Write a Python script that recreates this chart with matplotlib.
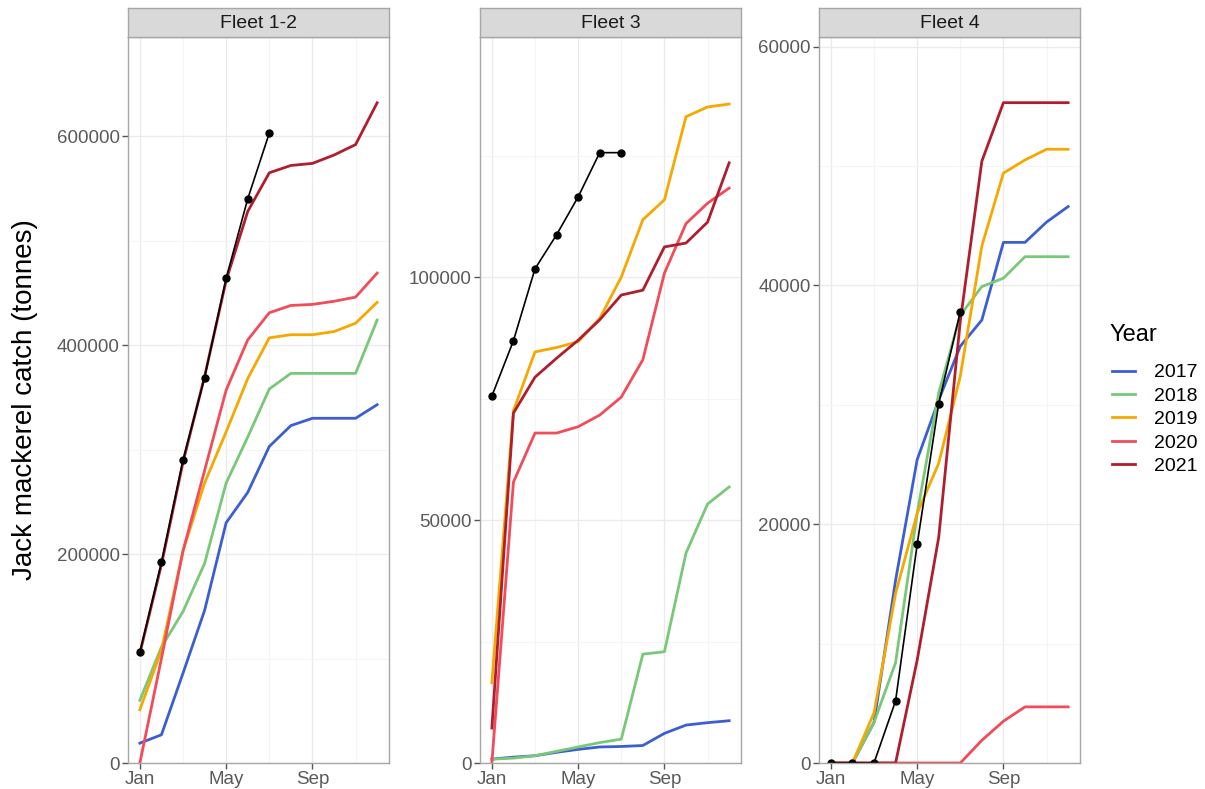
import matplotlib
matplotlib.use('Agg')
from matplotlib import pyplot as plt
from matplotlib.lines import Line2D

plt.rcParams['font.family'] = ['Liberation Sans', 'DejaVu Sans']

months = list(range(1, 13))
cur_months = list(range(1, 8))
years = ['2017', '2018', '2019', '2020', '2021']
year_colors = ['#3B5FD0', '#78C878', '#F5A800', '#F04C5A', '#B01E2E']

month_ticks = [1, 5, 9]
month_labels = ['Jan', 'May', 'Sep']
fleets = ['Fleet 1-2', 'Fleet 3', 'Fleet 4']

# Fleet 1-2
f12_2017 = [19000, 27000, 86000, 146000, 230000, 259000, 303000, 323000, 330000, 330000, 330000, 343000]
f12_2018 = [60000, 111000, 145000, 191000, 268000, 312000, 358000, 373000, 373000, 373000, 373000, 424000]
f12_2019 = [51000, 108000, 203000, 268000, 317000, 368000, 407000, 410000, 410000, 413000, 421000, 441000]
f12_2020 = [0, 100000, 203000, 280000, 357000, 405000, 431000, 438000, 439000, 442000, 446000, 469000]
f12_2021 = [105000, 190000, 288000, 370000, 462000, 528000, 565000, 572000, 574000, 582000, 592000, 632000]
f12_cur = [106000, 192000, 290000, 369000, 464000, 540000, 603000]

# Fleet 3
f3_2017 = [800, 1200, 1500, 2200, 2800, 3300, 3400, 3600, 6100, 7800, 8300, 8700]
f3_2018 = [800, 1000, 1500, 2400, 3300, 4200, 4900, 22400, 22900, 43200, 53300, 56800]
f3_2019 = [16500, 72500, 84600, 85500, 86700, 91500, 100000, 111800, 115900, 133000, 135000, 135600]
f3_2020 = [0, 57800, 67900, 67900, 69200, 71600, 75300, 83000, 100800, 111000, 115200, 118300]
f3_2021 = [7200, 72000, 79400, 83300, 87000, 91200, 96300, 97300, 106200, 107000, 111300, 123500]
f3_cur = [75500, 86900, 101700, 108700, 116500, 125600, 125600]

# Fleet 4
f4_2017 = [0, 0, 3400, 15300, 25400, 30400, 34900, 37100, 43600, 43600, 45300, 46600]
f4_2018 = [0, 0, 3400, 8400, 20900, 31000, 37500, 39900, 40600, 42400, 42400, 42400]
f4_2019 = [0, 0, 4200, 14200, 20900, 25100, 32400, 43300, 49400, 50500, 51400, 51400]
f4_2020 = [0, 0, 0, 0, 0, 0, 0, 1900, 3500, 4700, 4700, 4700]
f4_2021 = [0, 0, 0, 0, 8600, 18900, 37000, 50400, 55300, 55300, 55300, 55300]
f4_cur = [0, 0, 0, 5200, 18300, 30100, 37800]

series = [
    [f12_2017, f12_2018, f12_2019, f12_2020, f12_2021],
    [f3_2017, f3_2018, f3_2019, f3_2020, f3_2021],
    [f4_2017, f4_2018, f4_2019, f4_2020, f4_2021],
]
current = [f12_cur, f3_cur, f4_cur]

y_top = [695000, 149400, 60800]
y_major = [[0, 200000, 400000, 600000], [0, 50000, 100000], [0, 20000, 40000, 60000]]
y_minor = [[100000, 300000, 500000], [25000, 75000, 125000], [10000, 30000, 50000]]

fig = plt.figure(figsize=(12.05, 7.89), dpi=100)

lefts = [128, 480, 819]
for i in range(3):
    left = lefts[i] / 1205
    width = 261 / 1205
    ax = fig.add_axes([left, 26 / 789, width, 726 / 789])
    ax.set_xlim(0.45, 12.55)
    ax.set_ylim(0, y_top[i])
    ax.set_xticks(month_ticks)
    ax.set_xticklabels(month_labels)
    ax.set_xticks([3, 7, 11], minor=True)
    ax.set_yticks(y_major[i])
    ax.set_yticklabels([str(v) for v in y_major[i]])
    ax.set_yticks(y_minor[i], minor=True)
    ax.grid(which='major', color='#EBEBEB', linewidth=1.0)
    ax.grid(which='minor', color='#F5F5F5', linewidth=0.8)
    ax.set_axisbelow(True)
    ax.tick_params(which='major', length=4, width=1, color='#555555',
                   labelcolor='#5A5A5A', labelsize=13.5, pad=2)
    ax.tick_params(which='minor', length=0)
    for sp in ax.spines.values():
        sp.set_color('#A6A6A6')
        sp.set_linewidth(1.0)

    for vals, col in zip(series[i], year_colors):
        ax.plot(months, vals, color=col, linewidth=2.0)
    ax.plot(cur_months, current[i], color='black', linewidth=1.2,
            marker='o', markersize=5)

    strip = fig.add_axes([left, 752 / 789, width, 29 / 789])
    strip.set_facecolor('#D9D9D9')
    strip.set_xticks([])
    strip.set_yticks([])
    for sp in strip.spines.values():
        sp.set_color('#A6A6A6')
        sp.set_linewidth(1.0)
    strip.text(0.5, 0.45, fleets[i], ha='center', va='center',
               fontsize=14, color='#1A1A1A', transform=strip.transAxes)

fig.text(25 / 1205, 389 / 789, 'Jack mackerel catch (tonnes)', rotation=90,
         ha='center', va='center', fontsize=20, color='black')

# legend: title drawn separately so the gap to the keys matches
fig.text(1110 / 1205, 1 - 335 / 789, 'Year', ha='left', va='center',
         fontsize=17, color='black')
handles = [Line2D([0], [0], color=c, linewidth=2.0) for c in year_colors]
leg = fig.legend(handles, years, loc='upper left',
                 bbox_to_anchor=(1102 / 1205, 1 - 354 / 789), frameon=False,
                 fontsize=14, handlelength=1.18, borderpad=0,
                 handletextpad=1.0, labelspacing=0.30)

fig.savefig('out.png', dpi=100)
